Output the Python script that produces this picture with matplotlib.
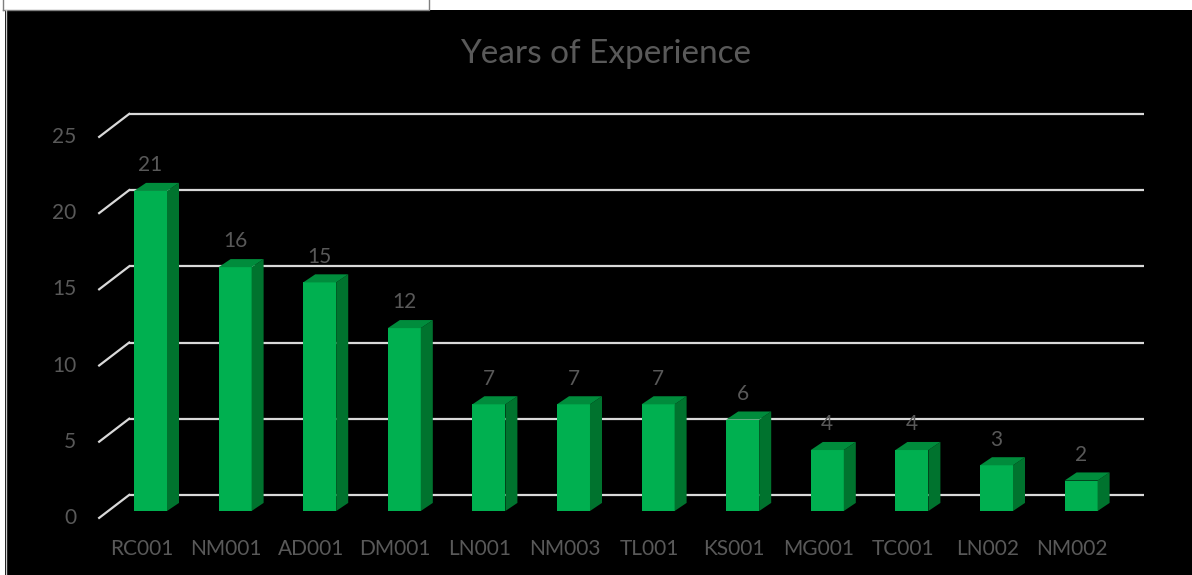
import numpy as np
import matplotlib.pyplot as plt
from matplotlib.patches import Polygon, Rectangle

# Data
employees = ["RC001", "NM001", "AD001", "DM001", "LN001", "NM003",
             "TL001", "KS001", "MG001", "TC001", "LN002", "NM002"]
years = [21, 16, 15, 12, 7, 7, 7, 6, 4, 4, 3, 2]
y_ticks = [0, 5, 10, 15, 20, 25]

title = "Years of Experience"

# colours
front_col = "#00B050"
side_col = "#00732E"
top_col = "#008C3C"
text_col = "#595959"
grid_col = "#D9D9D9"

# 3d look (data units): bar front plane is the origin
wall_dx, wall_dy = 0.248, 1.056      # bar plane -> back wall
front_dx, front_dy = -0.107, -0.453  # bar plane -> front plane (tick lines)
bar_w = 0.39
bar_dx, bar_dy = 0.142, 0.53         # bar depth

fig = plt.figure(figsize=(11.92, 5.75), dpi=100)
fig.patch.set_facecolor("black")
ax = fig.add_axes([0, 0, 1, 1])
ax.set_facecolor("black")
ax.set_xlim(-1.779, 12.311)
ax.set_ylim(-4.199, 33.53)
ax.axis("off")

n = len(employees)
x = np.arange(n)
left, right = -0.5, n - 0.5

# back wall gridlines and floor-ish diagonals
for v in y_ticks:
    ax.plot([left + wall_dx, right + wall_dx], [v + wall_dy, v + wall_dy],
            color=grid_col, lw=1.6, solid_capstyle="butt", zorder=1)
    ax.plot([left + front_dx, left + wall_dx], [v + front_dy, v + wall_dy],
            color=grid_col, lw=1.6, zorder=1)
    ax.text(left + front_dx - 0.27, v + front_dy, str(v), color=text_col,
            fontsize=15, ha="right", va="center", family="Lato")

# bars
for xi, v in zip(x, years):
    x0 = xi - bar_w / 2
    x1 = xi + bar_w / 2
    ax.add_patch(Rectangle((x0, 0), bar_w, v, facecolor=front_col,
                           edgecolor="none", zorder=3))
    ax.add_patch(Polygon([(x1, 0), (x1 + bar_dx, bar_dy), (x1 + bar_dx, v + bar_dy), (x1, v)],
                         closed=True, facecolor=side_col, edgecolor="none", zorder=3))
    ax.add_patch(Polygon([(x0, v), (x1, v), (x1 + bar_dx, v + bar_dy), (x0 + bar_dx, v + bar_dy)],
                         closed=True, facecolor=top_col, edgecolor="none", zorder=3))
    ax.text(xi, v + bar_dy + 0.5, str(v), color=text_col, fontsize=15,
            ha="center", va="bottom", family="Lato", zorder=4)

# category labels on the front plane
for xi, name in zip(x, employees):
    ax.text(xi + front_dx, -2.5, name, color=text_col, fontsize=15,
            ha="center", va="center", family="Lato")

fig.text(0.508, 1 - 54 / 575, title, color=text_col, fontsize=24,
         ha="center", va="center", family="Lato")

# white strips round the chart (sheet area)
fig.patches.append(Rectangle((0, 1 - 10 / 575), 1, 10 / 575, transform=fig.transFigure,
                             facecolor="white", edgecolor="none", zorder=5))
fig.patches.append(Rectangle((0, 0), 5 / 1192, 1, transform=fig.transFigure,
                             facecolor="white", edgecolor="none", zorder=5))
fig.lines.append(plt.Line2D([3 / 1192, 429 / 1192, 429 / 1192], [1 - 10 / 575, 1 - 10 / 575, 1],
                            transform=fig.transFigure, color="#7f7f7f", lw=1, zorder=6))
fig.lines.append(plt.Line2D([3 / 1192, 3 / 1192], [1 - 10 / 575, 1],
                            transform=fig.transFigure, color="#7f7f7f", lw=1, zorder=6))
fig.lines.append(plt.Line2D([5.5 / 1192, 5.5 / 1192], [0, 1 - 10 / 575],
                            transform=fig.transFigure, color="#c8c8c8", lw=1, zorder=6))

fig.savefig("out.png", dpi=100, facecolor=fig.get_facecolor())
